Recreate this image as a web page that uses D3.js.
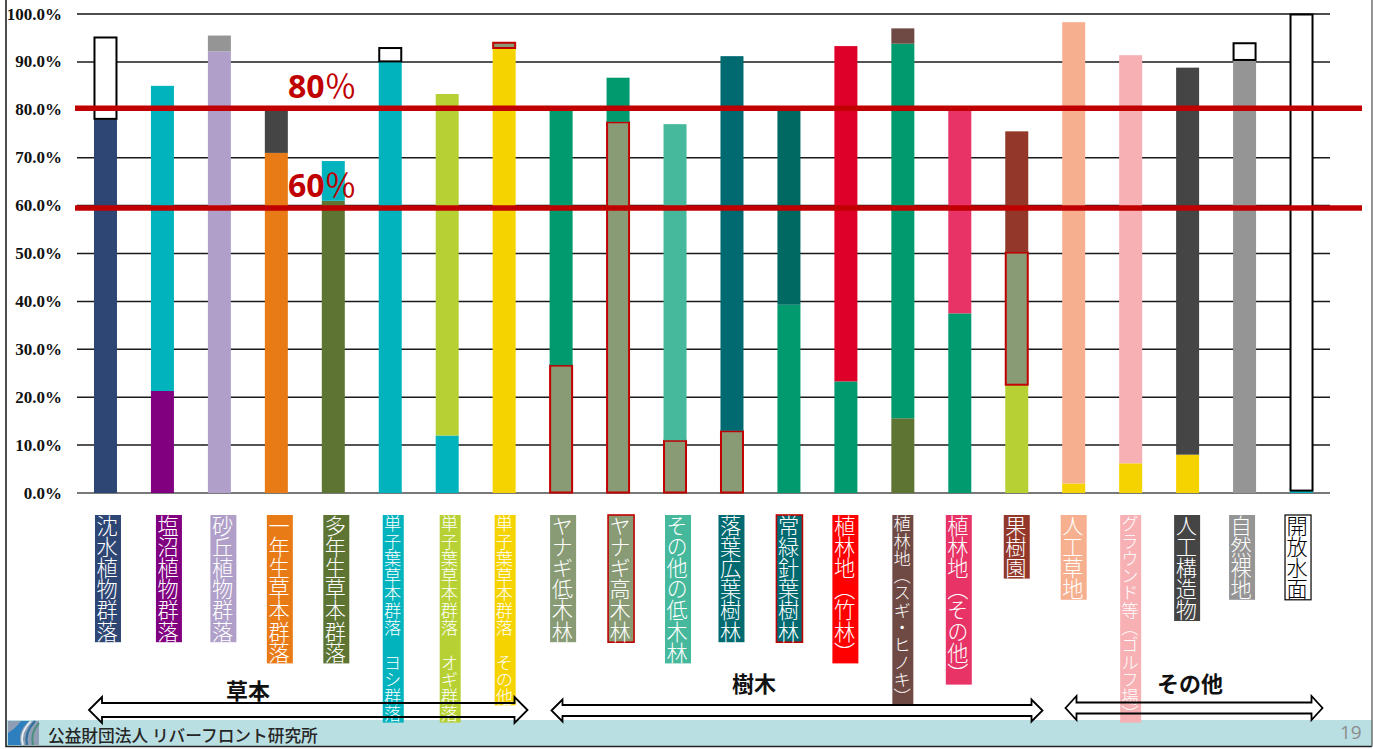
<!DOCTYPE html>
<html><head><meta charset="utf-8">
<script src="https://cdn.jsdelivr.net/npm/d3@7/dist/d3.min.js"></script>
<style>html,body{margin:0;padding:0;background:#fff;overflow:hidden}svg{display:block}</style>
</head><body><svg id="c" width="1373" height="749"></svg>
<script>
const categories=["沈水植物群落","塩沼植物群落","砂丘植物群落","一年生草本群落","多年生草本群落","単子葉草本群落　ヨシ群落","単子葉草本群落　オギ群落","単子葉草本群落　その他","ヤナギ低木林","ヤナギ高木林","その他の低木林","落葉広葉樹林","常緑針葉樹林","植林地（竹林）","植林地（スギ・ヒノキ）","植林地（その他）","果樹園","人工草地","グラウンド等（ゴルフ場）","人工構造物","自然裸地","開放水面"];
const labelColors=["#2e4674","#800080","#b09fc8","#e97b17","#5d7433","#00b3bd","#b7d135","#f5d300","#889b75","#889b75","#46b89c","#006a70","#006a70","#ff0000","#6f4a44","#e83366","#923729","#f6b090","#f7b1b4","#454545","#959595","#ffffff"];
const labelBorders=[null,null,null,null,null,null,null,null,null,"#c00000",null,null,"#c00000",null,null,null,null,null,null,null,null,"#000000"];
const labelSmall=[0,0,0,0,0,1,1,1,0,0,0,0,0,0,1,0,0,0,1,0,0,0];
const segmentTops=[[78,95.2],[21.3,85],[92.2,95.5],[71,80],[61,69.3],[90,93],[12,83.3],[92.8,94.1],[26.7,80],[77.5,86.7],[11,77],[13,91.2],[39.3,80],[23.3,93.3],[15.6,93.8,97],[37.5,80],[22.5,50.3,75.5],[2,98.3],[6.2,91.4],[8,88.8],[90.3,94],[0.4,100]];
const G="#009a6e",S="#889b75",W="#ffffff",T="#00b3bd",Y="#f5d300",D="#454545";
const segmentColors=[["#2e4674",W],["#800080",T],["#b09fc8","#959595"],["#e97b17",D],["#5d7433",T],[T,W],[T,"#b7d135"],[Y,S],[S,G],[S,G],[S,"#46b89c"],[S,"#006a70"],[G,"#006a62"],[G,"#df0029"],["#5d7433",G,"#6f4a44"],[G,"#e83366"],["#b7d135",S,"#923729"],[Y,"#f6b090"],[Y,"#f7b1b4"],[Y,D],["#959595",W],[T,W]];
const segmentStrokes=[[null,"#000"],[null,null],[null,null],[null,null],[null,null],[null,"#000"],[null,null],[null,"#c00000"],["#c00000",null],["#c00000",null],["#c00000",null],["#c00000",null],[null,null],[null,null],[null,null,null],[null,null],[null,"#c00000",null],[null,null],[null,null],[null,null],[null,"#000"],[null,"#000"]];
const ticks=[0,10,20,30,40,50,60,70,80,90,100];
const refLines=[80.3,59.5];
const refLabels=["80","60"];
const groupNames=["草本","樹木","その他"];

const svg=d3.select("#c");
const x=d3.scaleBand().domain(d3.range(categories.length)).range([77,1330]).paddingInner(0);
const y=d3.scaleLinear().domain([0,100]).range([493,14]);
const bw=23;
const cx=i=>x(i)+x.bandwidth()/2;
const JP='"Noto Sans CJK JP","Noto Sans",sans-serif';
// horizontal nudge of each label box relative to its bar (layout only)
const labelNudge=[2.5,6.5,4,3.5,3,3,3,1,2,3,3,-0.5,0.5,-0.5,0,-1,0,0,0,-0.5,-2.5,-3.5];

// footer band
svg.append("rect").attr("x",6).attr("y",720).attr("width",1366).attr("height",26).attr("fill","#b9dfe3");

// grid
svg.append("g").selectAll("line").data(ticks).join("line")
 .attr("x1",77).attr("x2",1330).attr("y1",d=>y(d)).attr("y2",d=>y(d))
 .attr("stroke",d=>d===100||d===0?"#4d4d4d":"#1a1a1a").attr("stroke-width",d=>d===100?1.8:1.5);

// axis labels
svg.append("g").selectAll("text").data(ticks).join("text")
 .attr("x",62).attr("y",d=>y(d)+5.5).attr("text-anchor","end")
 .attr("font-family",'"Liberation Serif",serif').attr("font-weight","bold").attr("font-size",17).attr("fill","#111")
 .text(d=>d3.format(".1f")(d)+"%");

// stacked bars
const bars=svg.append("g");
segmentTops.forEach((tops,i)=>{
  tops.forEach((t,j)=>{
    const lo=j?tops[j-1]:0, st=segmentStrokes[i][j];
    const ins=st?0.5:0;
    bars.append("rect").attr("x",cx(i)-bw/2+ins).attr("width",bw-2*ins)
      .attr("y",y(t)+ins).attr("height",Math.max(0,y(lo)-y(t)-2*ins))
      .attr("fill",segmentColors[i][j]).attr("stroke",st||"none").attr("stroke-width",st?2:0);
  });
});

// reference lines
svg.append("g").selectAll("line").data(refLines).join("line")
 .attr("x1",75).attr("x2",1362).attr("y1",d=>y(d)).attr("y2",d=>y(d))
 .attr("stroke","#c00000").attr("stroke-width",5.5);
refLabels.forEach((d,i)=>{
  const t=svg.append("text").attr("x",288).attr("y",[98,197][i]).attr("fill","#c00000").attr("font-family",JP).attr("font-size",32);
  t.append("tspan").attr("font-weight","bold").attr("font-family",'"Noto Sans","Noto Sans CJK JP",sans-serif').text(d);
  t.append("tspan").attr("font-weight",400).attr("font-size",32).text("％");
});

// category labels
const labelTop=515;
categories.forEach((c,i)=>{
  const s=labelSmall[i]?17.3:21.2, w=labelSmall[i]?21:26, h=[...c].length*s;
  const bc=labelBorders[i];
  const lx=cx(i)+labelNudge[i]-w/2;
  const g=svg.append("g");
  g.append("rect").attr("x",lx).attr("y",labelTop).attr("width",w).attr("height",h)
   .attr("fill",labelColors[i]).attr("stroke",bc||"none").attr("stroke-width",bc?(bc==="#000000"?1.2:1.6):0);
  g.append("text").attr("x",lx+w/2-s*0.04).attr("y",labelTop)
   .style("writing-mode","vertical-rl").attr("dominant-baseline","central")
   .attr("font-family",JP).attr("font-size",s).attr("font-weight",300)
   .attr("fill",bc==="#000000"?"#000":"#fff")
   .text(c);
});

// arrows
const arrowPts=(x0,x1,c,hs,hh,hl)=>[[x0,c],[x0+hl,c-hh],[x0+hl,c-hs],[x1-hl,c-hs],[x1-hl,c-hh],[x1,c],[x1-hl,c+hh],[x1-hl,c+hs],[x0+hl,c+hs],[x0+hl,c+hh]];
const arrowSpec=[{x0:89,x1:527.5,c:710,hs:7,hh:13,hl:13},{x0:551.5,x1:1042.5,c:710.5,hs:5.5,hh:11,hl:11},{x0:1065.5,x1:1322.5,c:708,hs:5.5,hh:12,hl:11}];
const line=d3.line();
arrowSpec.forEach((a,i)=>{
  svg.append("path").attr("d",line(arrowPts(a.x0,a.x1,a.c,a.hs,a.hh,a.hl))+"Z").attr("fill","none").attr("stroke","#000").attr("stroke-width",1.8);
  svg.append("text").attr("x",[248,754,1190][i]).attr("y",[699,692,692][i]).attr("text-anchor","middle")
   .attr("font-family",JP).attr("font-weight","bold").attr("font-size",22).attr("fill","#111").text(groupNames[i]);
});

// logo
const lg=svg.append("g");
lg.append("rect").attr("x",8).attr("y",721).attr("width",31).attr("height",24).attr("fill","#8f9eb5");
lg.append("path").attr("d","M8 745 V733 Q16 728 21 721 H29 Q17 732 21 745Z").attr("fill","#2e7fbd");
lg.append("path").attr("d","M23 745 Q19 733 31 721").attr("fill","none").attr("stroke","#e8f3f5").attr("stroke-width",1.6);
lg.append("path").attr("d","M27 745 Q24 733 35 721").attr("fill","none").attr("stroke","#2f6f9e").attr("stroke-width",2.2);
lg.append("path").attr("d","M33 745 Q30 733 39 723").attr("fill","none").attr("stroke","#4d8f7f").attr("stroke-width",2);

svg.append("text").attr("x",48).attr("y",742).attr("font-family",JP).attr("font-weight",500).attr("font-size",16.7).attr("fill","#262626").text("公益財団法人 リバーフロント研究所");
svg.append("text").attr("x",1340).attr("y",739).attr("font-family",'"Open Sans",sans-serif').attr("font-size",19).attr("fill","#8c8c8c").text("19");

// frame
svg.append("path").attr("d","M6 0V746.5H1372").attr("fill","none").attr("stroke","#222").attr("stroke-width",1.6);
svg.append("path").attr("d","M1372 0V746.5").attr("fill","none").attr("stroke","#666").attr("stroke-width",1.4);
</script></body></html>
